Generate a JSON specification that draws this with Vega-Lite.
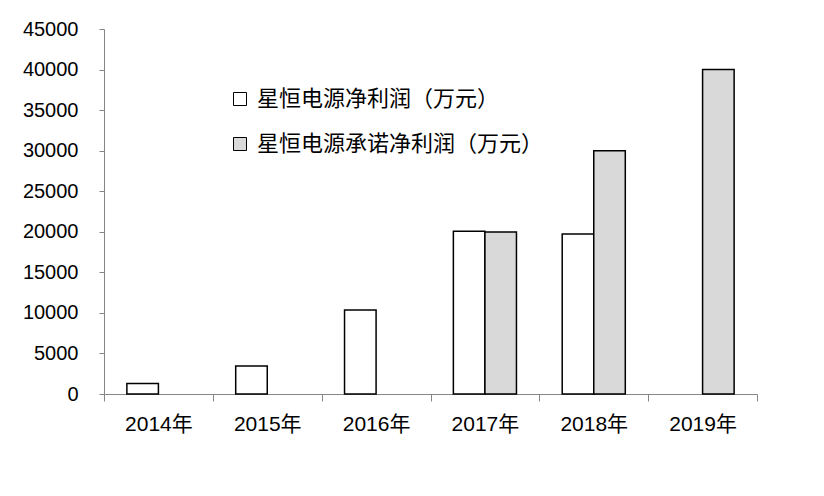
{
  "$schema": "https://vega.github.io/schema/vega-lite/v6.json",
  "width": 653,
  "height": 365,
  "autosize": {"type": "none"},
  "padding": {"left": 104, "top": 29, "right": 67, "bottom": 102},
  "background": "white",
  "config": {"view": {"stroke": null}},
  "data": {
    "values": [
      {"year": "2014年", "series": "星恒电源净利润（万元）", "value": 1300},
      {"year": "2015年", "series": "星恒电源净利润（万元）", "value": 3450},
      {"year": "2016年", "series": "星恒电源净利润（万元）", "value": 10350},
      {"year": "2017年", "series": "星恒电源净利润（万元）", "value": 20080},
      {"year": "2017年", "series": "星恒电源承诺净利润（万元）", "value": 19980},
      {"year": "2018年", "series": "星恒电源净利润（万元）", "value": 19740},
      {"year": "2018年", "series": "星恒电源承诺净利润（万元）", "value": 30000},
      {"year": "2019年", "series": "星恒电源承诺净利润（万元）", "value": 40000}
    ]
  },
  "mark": {"type": "bar", "stroke": "black", "strokeWidth": 1.5},
  "encoding": {
    "x": {
      "field": "year",
      "type": "nominal",
      "sort": null,
      "scale": {"paddingInner": 0, "paddingOuter": 0},
      "axis": {
        "title": null,
        "labelAngle": 0,
        "tickBand": "extent",
        "tickSize": 7,
        "tickColor": "#868686",
        "domainColor": "#868686",
        "labelFont": "Liberation Sans, Noto Sans CJK SC",
        "labelFontSize": 21,
        "labelColor": "black",
        "labelPadding": 12
      }
    },
    "xOffset": {
      "field": "series",
      "type": "nominal",
      "sort": ["星恒电源净利润（万元）", "星恒电源承诺净利润（万元）"],
      "scale": {"paddingInner": 0, "paddingOuter": 0.725}
    },
    "y": {
      "field": "value",
      "type": "quantitative",
      "scale": {"domain": [0, 45000], "nice": false},
      "axis": {
        "title": null,
        "values": [0, 5000, 10000, 15000, 20000, 25000, 30000, 35000, 40000, 45000],
        "format": "d",
        "grid": false,
        "tickSize": 5,
        "tickColor": "#868686",
        "domainColor": "#868686",
        "labelFont": "Liberation Sans",
        "labelFontSize": 20,
        "labelColor": "black",
        "labelPadding": 21
      }
    },
    "fill": {
      "field": "series",
      "type": "nominal",
      "sort": ["星恒电源净利润（万元）", "星恒电源承诺净利润（万元）"],
      "scale": {"range": ["white", "#d9d9d9"]},
      "legend": {
        "title": null,
        "orient": "none",
        "legendX": 125,
        "legendY": 59,
        "padding": 0,
        "symbolType": "square",
        "symbolSize": 169,
        "symbolStrokeColor": "black",
        "symbolStrokeWidth": 1,
        "labelFont": "Noto Sans CJK SC",
        "labelFontSize": 22,
        "labelColor": "black",
        "labelOffset": 6,
        "labelLimit": 500,
        "rowPadding": 23
      }
    }
  }
}
